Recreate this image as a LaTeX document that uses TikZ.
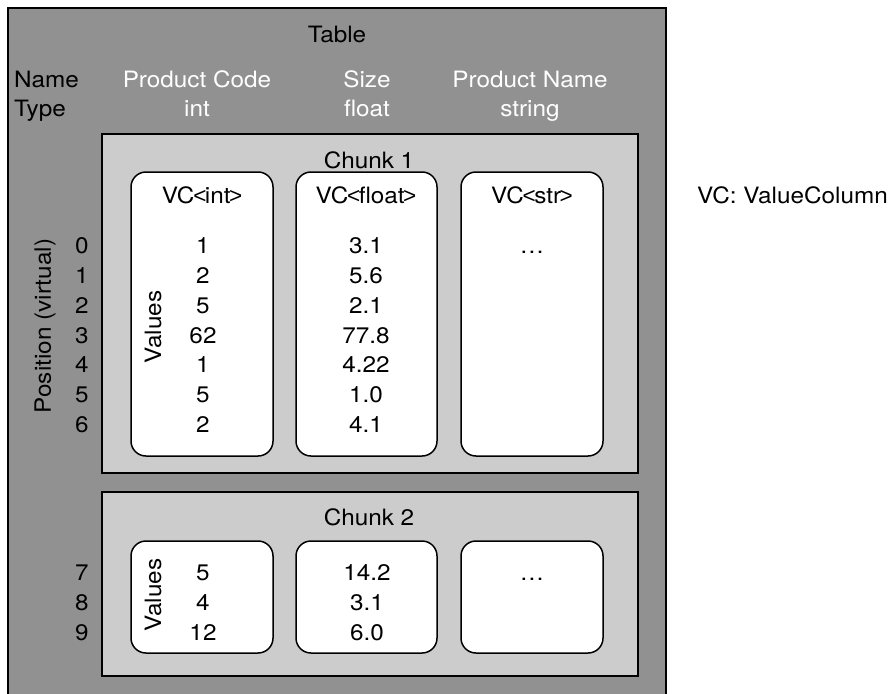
\documentclass[tikz,border=0pt]{standalone}
\usepackage{fontspec}
\setmainfont{TeX Gyre Heros}[FakeStretch=1.08]
\newfontfamily\symfont{Liberation Sans}
\definecolor{tablegray}{RGB}{145,145,145}
\definecolor{chunkgray}{RGB}{204,204,204}
\newcommand{\ltsym}{\kern-1.2pt{\symfont<}\kern-1.5pt}
\newcommand{\gtsym}{\kern-1.5pt{\symfont>}}
\begin{document}
\begin{tikzpicture}[x=1pt,y=-1pt,
  every node/.style={font=\fontsize{22.5}{27}\selectfont, inner sep=0pt, anchor=base},
  tablebox/.style={draw=black, line width=2pt, fill=tablegray},
  chunkbox/.style={draw=black, line width=1.8pt, fill=chunkgray},
  vcbox/.style={draw=black, line width=1.5pt, fill=white, rounded corners=15pt},
  hdr/.style={text=white},
  rot/.style={rotate=90, anchor=center}]
\useasboundingbox (0,0) rectangle (893,693);
\fill[white] (0,0) rectangle (893,693);
% table
\draw[tablebox] (8,8) rectangle (666,710);
\node (ttl) at (337,42) {Table};
\node[anchor=base west] (name) at (14,87) {Name};
\node[anchor=base west] (type) at (14,116) {Type};
\node[hdr] (pc) at (197,87) {Product Code};
\node[hdr] (pct) at (197,116) {int};
\node[hdr] (sz) at (367,87) {Size};
\node[hdr] (szt) at (367,116) {float};
\node[hdr] (pn) at (530,87) {Product Name};
\node[hdr] (pnt) at (530,116) {string};
\node[rot] (pos) at (45,326) {Position (virtual)};
% chunk 1
\draw[chunkbox] (102,134) rectangle (638,473);
\node (c1) at (369,168) {Chunk 1};
\draw[vcbox] (131,172) rectangle (273,456);
\draw[vcbox] (296,172) rectangle (437,456);
\draw[vcbox] (461,172) rectangle (603,456);
\node (vci) at (202,203) {VC\ltsym int\gtsym};
\node (vcf) at (366,203) {VC\ltsym float\gtsym};
\node (vcs) at (532,203) {VC\ltsym str\gtsym};
\node[rot] (val1) at (153,327) {Values};
\foreach \i/\a/\b [count=\k from 0] in {0/1/3.1,1/2/5.6,2/5/2.1,3/62/77.8,4/1/4.22,5/5/1.0,6/2/4.1}{
  \node (p\i) at (82,{253.5+29.85*\k}) {\i};
  \node (a\i) at (203,{253.5+29.85*\k}) {\a};
  \node (b\i) at (366,{253.5+29.85*\k}) {\b};
}
\node (dots1) at (532,253.5) {\dots};
% chunk 2
\draw[chunkbox] (102,492) rectangle (638,676);
\node (c2) at (369,525) {Chunk 2};
\draw[vcbox] (131,541) rectangle (273,653);
\draw[vcbox] (296,541) rectangle (437,653);
\draw[vcbox] (461,541) rectangle (603,653);
\node[rot] (val2) at (153,595) {Values};
\foreach \i/\a/\b [count=\k from 0] in {7/5/14.2,8/4/3.1,9/12/6.0}{
  \node (p\i) at (82,{580.5+30*\k}) {\i};
  \node (a\i) at (203,{580.5+30*\k}) {\a};
  \node (b\i) at (367,{580.5+30*\k}) {\b};
}
\node (dots2) at (532,580.5) {\dots};
% legend
\node[anchor=base west] (leg) at (697,203) {VC: ValueColumn};
\end{tikzpicture}
\end{document}
